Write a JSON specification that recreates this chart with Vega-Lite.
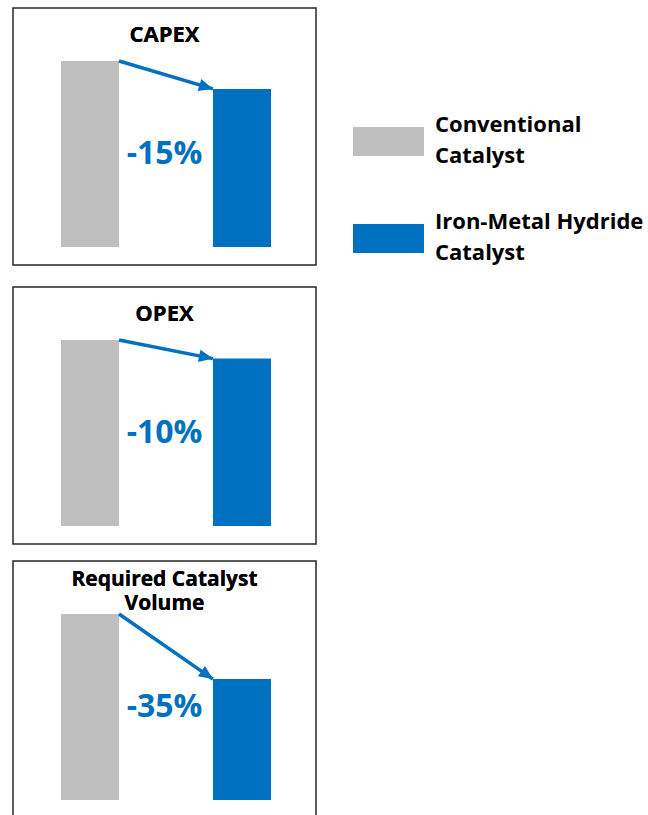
{
  "$schema": "https://vega.github.io/schema/vega-lite/v6.json",
  "padding": {"left": 12, "top": 7, "right": 0, "bottom": 0},
  "data": {
    "values": [
      {"metric": "CAPEX", "catalyst": "Conventional Catalyst", "value": 100},
      {"metric": "CAPEX", "catalyst": "Iron-Metal Hydride Catalyst", "value": 85},
      {"metric": "OPEX", "catalyst": "Conventional Catalyst", "value": 100},
      {"metric": "OPEX", "catalyst": "Iron-Metal Hydride Catalyst", "value": 90},
      {"metric": "Required Catalyst Volume", "catalyst": "Conventional Catalyst", "value": 100},
      {"metric": "Required Catalyst Volume", "catalyst": "Iron-Metal Hydride Catalyst", "value": 65}
    ]
  },
  "spacing": 15,
  "vconcat": [
    {
      "spacing": 20,
      "vconcat": [
        {
          "width": 303,
          "height": 257,
          "transform": [{"filter": "datum.metric == 'CAPEX'"}],
          "layer": [
            {
              "mark": {"type": "bar"},
              "encoding": {
                "x": {"field": "catalyst", "type": "nominal", "axis": null,
                  "scale": {"domain": ["Conventional Catalyst", "Iron-Metal Hydride Catalyst"], "paddingInner": 0.618, "paddingOuter": 0.306, "align": 0.516}},
                "y": {"field": "value", "type": "quantitative", "axis": null,
                  "scale": {"domain": [-9.7, 128.5], "nice": false, "zero": false}},
                "color": {"field": "catalyst", "type": "nominal",
                  "scale": {"domain": ["Conventional Catalyst", "Iron-Metal Hydride Catalyst"], "range": ["#BFBFBF", "#0070C0"]},
                  "legend": {"orient": "none", "legendX": 340, "legendY": 98, "title": null, "padding": 0,
                    "symbolType": "M-1,-0.41H1V0.41H-1Z", "symbolSize": 5041, "symbolStrokeWidth": 0, "symbolOpacity": 1,
                    "labelFont": "Open Sans", "labelFontSize": 22, "labelFontWeight": "bold", "labelColor": "#000000",
                    "labelOffset": 11, "labelLimit": 400, "labelBaseline": "middle", "rowPadding": 35,
                    "labelExpr": "[slice(datum.label, 0, lastindexof(datum.label, ' ')), slice(datum.label, lastindexof(datum.label, ' ') + 1)]",
                    "encode": {"labels": {"update": {"lineHeight": {"value": 31.6}, "dy": {"value": -17}}}}}}
              }
            },
            {
              "transform": [{"pivot": "catalyst", "value": "value", "groupby": ["metric"]}],
              "mark": {"type": "rule", "color": "#0070C0", "strokeWidth": 3.5},
              "encoding": {
                "x": {"datum": "Conventional Catalyst", "type": "nominal", "bandPosition": 1},
                "x2": {"datum": "Iron-Metal Hydride Catalyst", "bandPosition": 0},
                "y": {"field": "Conventional Catalyst", "type": "quantitative"},
                "y2": {"field": "Iron-Metal Hydride Catalyst"}
              }
            },
            {
              "transform": [{"pivot": "catalyst", "value": "value", "groupby": ["metric"]}],
              "mark": {"type": "point", "shape": "M0,0L-1,-0.45L-1,0.45Z", "size": 784, "filled": true, "color": "#0070C0", "opacity": 1, "strokeWidth": 0, "angle": 16.5},
              "encoding": {
                "x": {"datum": "Iron-Metal Hydride Catalyst", "type": "nominal", "bandPosition": 0},
                "y": {"field": "Iron-Metal Hydride Catalyst", "type": "quantitative"}
              }
            },
            {
              "transform": [
                {"pivot": "catalyst", "value": "value", "groupby": ["metric"]},
                {"calculate": "round((datum['Iron-Metal Hydride Catalyst'] - datum['Conventional Catalyst']) / datum['Conventional Catalyst'] * 100) + '%'", "as": "change"}
              ],
              "mark": {"type": "text", "font": "Open Sans", "fontSize": 32, "fontWeight": "bold", "color": "#0070C0", "align": "center", "baseline": "middle"},
              "encoding": {
                "text": {"field": "change", "type": "nominal"},
                "y": {"datum": 50, "type": "quantitative"}
              }
            },
            {
              "mark": {"type": "text", "font": "Open Sans", "fontSize": 22, "fontWeight": "bold", "color": "#000000", "align": "center", "baseline": "middle"},
              "encoding": {
                "text": {"value": "CAPEX"},
                "y": {"datum": 114, "type": "quantitative"}
              }
            }
          ]
        },
        {
          "width": 303,
          "height": 257,
          "transform": [{"filter": "datum.metric == 'OPEX'"}],
          "layer": [
            {
              "mark": {"type": "bar"},
              "encoding": {
                "x": {"field": "catalyst", "type": "nominal", "axis": null,
                  "scale": {"domain": ["Conventional Catalyst", "Iron-Metal Hydride Catalyst"], "paddingInner": 0.618, "paddingOuter": 0.306, "align": 0.516}},
                "y": {"field": "value", "type": "quantitative", "axis": null,
                  "scale": {"domain": [-9.7, 128.5], "nice": false, "zero": false}},
                "color": {"field": "catalyst", "type": "nominal",
                  "scale": {"domain": ["Conventional Catalyst", "Iron-Metal Hydride Catalyst"], "range": ["#BFBFBF", "#0070C0"]},
                  "legend": {"orient": "none", "legendX": 340, "legendY": 98, "title": null, "padding": 0,
                    "symbolType": "M-1,-0.41H1V0.41H-1Z", "symbolSize": 5041, "symbolStrokeWidth": 0, "symbolOpacity": 1,
                    "labelFont": "Open Sans", "labelFontSize": 22, "labelFontWeight": "bold", "labelColor": "#000000",
                    "labelOffset": 11, "labelLimit": 400, "labelBaseline": "middle", "rowPadding": 35,
                    "labelExpr": "[slice(datum.label, 0, lastindexof(datum.label, ' ')), slice(datum.label, lastindexof(datum.label, ' ') + 1)]",
                    "encode": {"labels": {"update": {"lineHeight": {"value": 31.6}, "dy": {"value": -17}}}}}}
              }
            },
            {
              "transform": [{"pivot": "catalyst", "value": "value", "groupby": ["metric"]}],
              "mark": {"type": "rule", "color": "#0070C0", "strokeWidth": 3.5},
              "encoding": {
                "x": {"datum": "Conventional Catalyst", "type": "nominal", "bandPosition": 1},
                "x2": {"datum": "Iron-Metal Hydride Catalyst", "bandPosition": 0},
                "y": {"field": "Conventional Catalyst", "type": "quantitative"},
                "y2": {"field": "Iron-Metal Hydride Catalyst"}
              }
            },
            {
              "transform": [{"pivot": "catalyst", "value": "value", "groupby": ["metric"]}],
              "mark": {"type": "point", "shape": "M0,0L-1,-0.45L-1,0.45Z", "size": 784, "filled": true, "color": "#0070C0", "opacity": 1, "strokeWidth": 0, "angle": 11.2},
              "encoding": {
                "x": {"datum": "Iron-Metal Hydride Catalyst", "type": "nominal", "bandPosition": 0},
                "y": {"field": "Iron-Metal Hydride Catalyst", "type": "quantitative"}
              }
            },
            {
              "transform": [
                {"pivot": "catalyst", "value": "value", "groupby": ["metric"]},
                {"calculate": "round((datum['Iron-Metal Hydride Catalyst'] - datum['Conventional Catalyst']) / datum['Conventional Catalyst'] * 100) + '%'", "as": "change"}
              ],
              "mark": {"type": "text", "font": "Open Sans", "fontSize": 32, "fontWeight": "bold", "color": "#0070C0", "align": "center", "baseline": "middle"},
              "encoding": {
                "text": {"field": "change", "type": "nominal"},
                "y": {"datum": 50, "type": "quantitative"}
              }
            },
            {
              "mark": {"type": "text", "font": "Open Sans", "fontSize": 22, "fontWeight": "bold", "color": "#000000", "align": "center", "baseline": "middle"},
              "encoding": {
                "text": {"value": "OPEX"},
                "y": {"datum": 114, "type": "quantitative"}
              }
            }
          ]
        }
      ]
    },
    {
      "width": 303,
      "height": 257,
      "transform": [{"filter": "datum.metric == 'Required Catalyst Volume'"}],
      "layer": [
        {
          "mark": {"type": "bar"},
          "encoding": {
            "x": {"field": "catalyst", "type": "nominal", "axis": null,
              "scale": {"domain": ["Conventional Catalyst", "Iron-Metal Hydride Catalyst"], "paddingInner": 0.618, "paddingOuter": 0.306, "align": 0.516}},
            "y": {"field": "value", "type": "quantitative", "axis": null,
              "scale": {"domain": [-9.7, 128.5], "nice": false, "zero": false}},
            "color": {"field": "catalyst", "type": "nominal",
              "scale": {"domain": ["Conventional Catalyst", "Iron-Metal Hydride Catalyst"], "range": ["#BFBFBF", "#0070C0"]},
              "legend": {"orient": "none", "legendX": 340, "legendY": 98, "title": null, "padding": 0,
                "symbolType": "M-1,-0.41H1V0.41H-1Z", "symbolSize": 5041, "symbolStrokeWidth": 0, "symbolOpacity": 1,
                "labelFont": "Open Sans", "labelFontSize": 22, "labelFontWeight": "bold", "labelColor": "#000000",
                "labelOffset": 11, "labelLimit": 400, "labelBaseline": "middle", "rowPadding": 35,
                "labelExpr": "[slice(datum.label, 0, lastindexof(datum.label, ' ')), slice(datum.label, lastindexof(datum.label, ' ') + 1)]",
                "encode": {"labels": {"update": {"lineHeight": {"value": 31.6}, "dy": {"value": -17}}}}}}
          }
        },
        {
          "transform": [{"pivot": "catalyst", "value": "value", "groupby": ["metric"]}],
          "mark": {"type": "rule", "color": "#0070C0", "strokeWidth": 3.5},
          "encoding": {
            "x": {"datum": "Conventional Catalyst", "type": "nominal", "bandPosition": 1},
            "x2": {"datum": "Iron-Metal Hydride Catalyst", "bandPosition": 0},
            "y": {"field": "Conventional Catalyst", "type": "quantitative"},
            "y2": {"field": "Iron-Metal Hydride Catalyst"}
          }
        },
        {
          "transform": [{"pivot": "catalyst", "value": "value", "groupby": ["metric"]}],
          "mark": {"type": "point", "shape": "M0,0L-1,-0.45L-1,0.45Z", "size": 784, "filled": true, "color": "#0070C0", "opacity": 1, "strokeWidth": 0, "angle": 34.7},
          "encoding": {
            "x": {"datum": "Iron-Metal Hydride Catalyst", "type": "nominal", "bandPosition": 0},
            "y": {"field": "Iron-Metal Hydride Catalyst", "type": "quantitative"}
          }
        },
        {
          "transform": [
            {"pivot": "catalyst", "value": "value", "groupby": ["metric"]},
            {"calculate": "round((datum['Iron-Metal Hydride Catalyst'] - datum['Conventional Catalyst']) / datum['Conventional Catalyst'] * 100) + '%'", "as": "change"}
          ],
          "mark": {"type": "text", "font": "Open Sans", "fontSize": 32, "fontWeight": "bold", "color": "#0070C0", "align": "center", "baseline": "middle"},
          "encoding": {
            "text": {"field": "change", "type": "nominal"},
            "y": {"datum": 50, "type": "quantitative"}
          }
        },
        {
          "mark": {"type": "text", "font": "Open Sans", "fontSize": 21, "fontWeight": "bold", "color": "#000000", "align": "center", "baseline": "middle", "lineHeight": 24},
          "encoding": {
            "text": {"value": ["Required Catalyst", "Volume"]},
            "y": {"datum": 118.3, "type": "quantitative"}
          }
        }
      ]
    }
  ],
  "config": {
    "view": {"stroke": "#262626", "strokeWidth": 1.5},
    "font": "Open Sans"
  }
}
